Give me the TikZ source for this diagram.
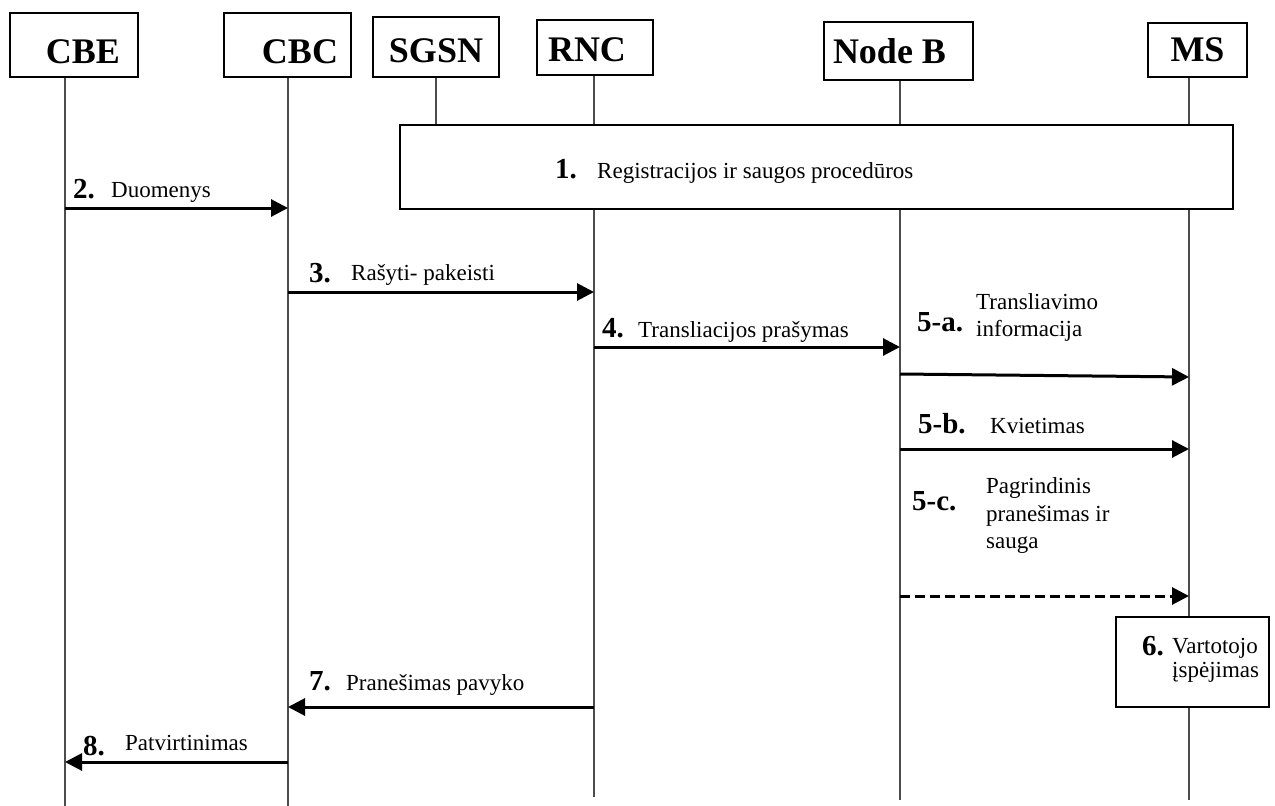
\documentclass[tikz,border=0pt]{standalone}
\usepackage{fontspec}
\setmainfont{Liberation Serif}
\usetikzlibrary{arrows.meta}
\begin{document}
\begin{tikzpicture}[x=1pt,y=-1pt,
  hdr/.style={draw,line width=1.2pt,fill=white,inner sep=0pt,font=\fontsize{36}{40}\selectfont\bfseries},
  procbox/.style={draw,line width=1.2pt,fill=white,inner sep=0pt},
  life/.style={line width=1.4pt,black!70},
  msg/.style={line width=3pt,-{Triangle[length=17pt,width=17pt]}},
  num/.style={anchor=base west,inner sep=0pt,font=\fontsize{29}{32}\selectfont\bfseries},
  lbl/.style={anchor=base west,inner sep=0pt,font=\fontsize{23}{28}\selectfont},
]
\useasboundingbox (0,0) rectangle (1275,806);

% header boxes
\node[hdr,minimum width=128pt,minimum height=64pt,text height=37pt,text depth=0pt] (cbe) at (74,45) {\hspace*{18pt}CBE};
\node[hdr,minimum width=127pt,minimum height=64pt,text height=37pt,text depth=0pt] (cbc) at (287.5,45) {\hspace*{25pt}CBC};
\node[hdr,minimum width=126pt,minimum height=60pt,text height=30pt,text depth=0pt] (sgsn) at (436,47) {SGSN};
\node[hdr,minimum width=116pt,minimum height=55pt,text height=28pt,text depth=0pt] (rnc) at (595,47.5) {RNC\hspace*{16pt}};
\node[hdr,minimum width=149pt,minimum height=58pt] (nodeb) at (898.5,51) {Node B\hspace*{18pt}};
\node[hdr,minimum width=99pt,minimum height=54pt] (ms) at (1197.5,50) {MS};

% lifeline x positions
\coordinate (xcbe) at (65,0);
\coordinate (xcbc) at (288,0);
\coordinate (xrnc) at (594,0);
\coordinate (xnb) at (900,0);
\coordinate (xms) at (1189,0);

% lifelines
\draw[life] (cbe.south -| xcbe) -- (xcbe |- 0,806);
\draw[life] (cbc.south -| xcbc) -- (xcbc |- 0,806);
\draw[life] (rnc.south -| xrnc) -- (xrnc |- 0,797);
\draw[life] (nodeb.south -| xnb) -- (xnb |- 0,800);
\draw[life] (ms.south -| xms) -- (xms |- 0,800);

% procedure box 1
\node[procbox,minimum width=833pt,minimum height=84pt] (reg) at (816.5,167) {};
\draw[life] (sgsn.south) -- (sgsn.south |- reg.north);
\node[num] (n1) at (555,178) {1.};
\node[lbl] (t1) at (597,178) {Registracijos ir saugos procedūros};

% box 6
\node[procbox,minimum width=153pt,minimum height=90pt] (alert) at (1192.5,662) {};
\node[num] (n6) at (1142,655) {6.};
\node[lbl] (t6a) at (1172,653) {Vartotojo};
\node[lbl] (t6b) at (1172,677) {įspėjimas};

% messages
\draw[msg] (xcbe |- 0,208) -- (xcbc |- 0,208);
\node[num] (n2) at (73,198) {2.};
\node[lbl] (t2) at (111,197) {Duomenys};

\draw[msg] (xcbc |- 0,292) -- (xrnc |- 0,292);
\node[num] (n3) at (309,282) {3.};
\node[lbl] (t3) at (351,280) {Rašyti- pakeisti};

\draw[msg] (xrnc |- 0,347) -- (xnb |- 0,347);
\node[num] (n4) at (602,337) {4.};
\node[lbl] (t4) at (638,337) {Transliacijos prašymas};

\draw[msg] (xnb |- 0,374) -- (xms |- 0,377);
\node[num] (n5a) at (917,331) {5-a.};
\node[lbl] (t5a1) at (976,309) {Transliavimo};
\node[lbl] (t5a2) at (976,336) {informacija};

\draw[msg] (xnb |- 0,449) -- (xms |- 0,449);
\node[num] (n5b) at (918,433) {5-b.};
\node[lbl] (t5b) at (990,433) {Kvietimas};

\draw[msg,dash pattern=on 10pt off 5pt] (xnb |- 0,596) -- (xms |- 0,596);
\node[num] (n5c) at (912,510) {5-c.};
\node[lbl] (t5c1) at (986,493) {Pagrindinis};
\node[lbl] (t5c2) at (986,521) {pranešimas ir};
\node[lbl] (t5c3) at (986,548) {sauga};

\draw[msg] (xrnc |- 0,707) -- (xcbc |- 0,707);
\node[num] (n7) at (309,690) {7.};
\node[lbl] (t7) at (346,690) {Pranešimas pavyko};

\draw[msg] (xcbc |- 0,762) -- (xcbe |- 0,762);
\node[num] (n8) at (83,755) {8.};
\node[lbl] (t8) at (125,750) {Patvirtinimas};
\end{tikzpicture}
\end{document}
